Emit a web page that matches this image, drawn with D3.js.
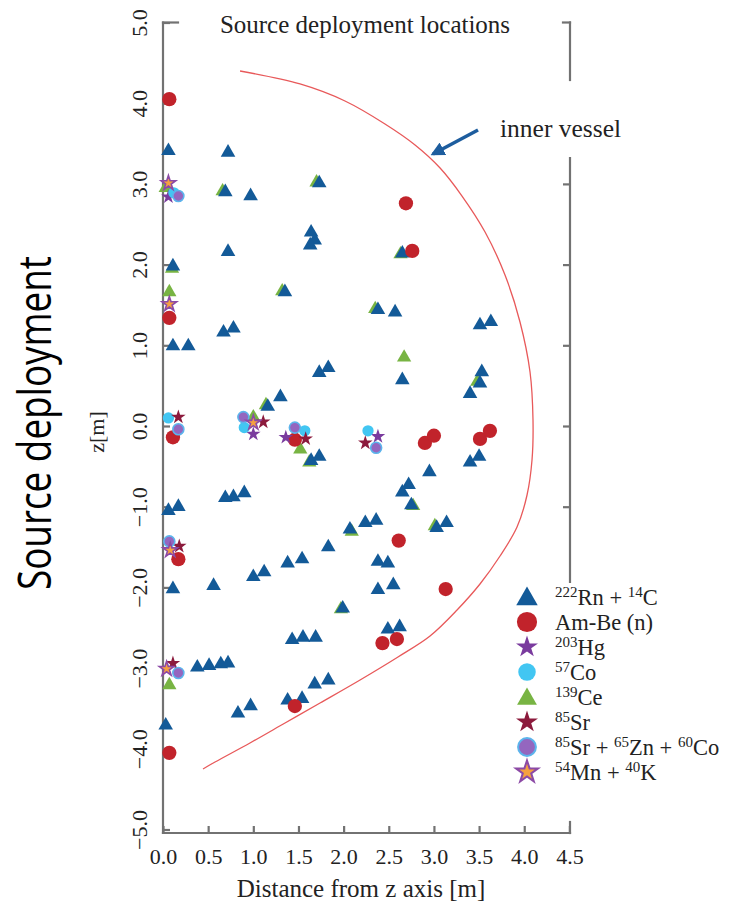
<!DOCTYPE html>
<html>
<head>
<meta charset="utf-8">
<script src="https://cdn.jsdelivr.net/npm/d3@7"></script>
<style>
  body { margin: 0; background: #fff; }
  svg text { font-family: "Liberation Serif", "Times New Roman", serif; fill: #222; }
</style>
</head>
<body>
<div id="chart"></div>
<script>
// [distance from z axis (m), z (m)] per source type
var rnC14 = [[0.06,3.41],[0.72,3.39],[0.69,2.90],[0.97,2.85],[1.73,3.01],[1.64,2.40],[1.68,2.30],[1.63,2.24],
    [0.72,2.16],[0.11,1.98],[1.35,1.66],[0.67,1.16],[0.78,1.21],[0.11,0.99],[0.28,0.99],
    [2.65,2.14],[2.38,1.44],[2.57,1.41],[3.51,1.25],[3.63,1.29],
    [2.65,0.57],[3.53,0.67],[3.51,0.53],[3.40,0.40],[1.73,0.66],[1.83,0.72],[1.30,0.36],[1.16,0.24],
    [1.64,-0.43],[1.73,-0.38],[3.40,-0.45],[3.50,-0.38],[2.95,-0.57],[2.72,-0.73],[2.65,-0.82],[2.75,-0.98],
    [0.69,-0.89],[0.78,-0.88],[0.90,-0.83],[0.06,-1.05],[0.17,-1.00],
    [2.07,-1.28],[2.24,-1.20],[2.36,-1.17],[3.03,-1.26],[3.14,-1.20],
    [1.83,-1.50],[1.38,-1.70],[1.54,-1.65],[1.00,-1.87],[1.12,-1.81],[0.11,-2.02],[0.56,-1.98],
    [2.38,-1.68],[2.49,-1.70],[2.38,-2.03],[2.55,-1.97],[1.99,-2.26],[2.49,-2.52],[2.62,-2.49],
    [1.43,-2.65],[1.55,-2.62],[1.69,-2.62],[0.38,-2.99],[0.51,-2.97],[0.64,-2.95],[0.72,-2.94],
    [1.68,-3.20],[1.83,-3.15],[1.38,-3.40],[1.54,-3.38],[0.83,-3.56],[0.97,-3.47],[0.03,-3.71]];
var amBe = [[0.07,4.05],[2.69,2.76],[2.76,2.17],[0.07,1.34],[0.11,-0.14],[1.46,-0.17],[2.90,-0.21],[3.00,-0.12],
    [3.51,-0.16],[3.62,-0.06],[2.61,-1.42],[0.17,-1.65],[3.13,-2.02],[2.43,-2.69],[2.59,-2.64],[1.46,-3.47],[0.07,-4.05]];
var hg203 = [[0.06,2.84],[1.00,-0.10],[1.36,-0.14],[2.38,-0.13]];
var co57 = [[0.12,2.89],[0.06,0.10],[0.90,-0.02],[1.57,-0.06],[2.27,-0.06]];
var ce139 = [[0.03,2.95],[0.07,1.66],[1.00,0.11],[1.52,-0.29],[2.67,0.85],[0.07,-3.21],
    [0.66,2.91],[1.70,3.02],[1.32,1.67],[0.10,1.95],[2.35,1.45],[2.63,2.13],[3.48,0.55],[2.77,-0.99],
    [3.01,-1.24],[2.09,-1.31],[1.14,0.26],[1.62,-0.45],[1.97,-2.27]];
var sr85 = [[0.17,0.11],[1.11,0.05],[1.58,-0.16],[2.24,-0.21],[0.18,-1.49],[0.11,-2.94]];
var srZnCo = [[0.17,2.85],[0.17,-0.04],[0.89,0.11],[1.46,-0.02],[2.36,-0.27],[0.07,-1.43],[0.17,-3.06]];
var mnK = [[0.06,3.01],[0.07,1.51],[1.00,0.04],[0.08,-1.54],[0.04,-3.01]];

// inner vessel outline
var vessel = [[0.853,4.399],[1.517,4.238],[2.015,4.027],[2.458,3.742],[2.791,3.482],[3.068,3.197],
    [3.311,2.850],[3.566,2.404],[3.787,1.871],[3.953,1.289],[4.064,0.669],[4.097,0.074],
    [4.086,-0.421],[4.031,-0.855],[3.920,-1.252],[3.732,-1.611],[3.510,-1.958],[3.256,-2.280],
    [2.957,-2.602],[2.602,-2.862],[2.182,-3.147],[1.739,-3.432],[1.351,-3.680],[0.963,-3.928],
    [0.576,-4.164],[0.443,-4.250]];

var xTicks = [0, 0.5, 1, 1.5, 2, 2.5, 3, 3.5, 4, 4.5];
var yTicks = [-5, -4, -3, -2, -1, 0, 1, 2, 3, 4, 5];

// drawing order: green sits under the blue triangles
var series = [
    {data: ce139, shape: "ce"},
    {data: rnC14, shape: "rn"},
    {data: amBe, shape: "am"},
    {data: hg203, shape: "hg"},
    {data: co57, shape: "co"},
    {data: sr85, shape: "sr"},
    {data: srZnCo, shape: "szc"},
    {data: mnK, shape: "mn"}
];

var styles = {
    rn:  {type: d3.symbolTriangle, size: 92, fill: "#135a98", stroke: "none"},
    am:  {type: d3.symbolCircle, size: 160, fill: "#c1232b", stroke: "none"},
    hg:  {type: d3.symbolStar, size: 66, fill: "#7a3b9e", stroke: "none"},
    co:  {type: d3.symbolCircle, size: 100, fill: "#42c6f2", stroke: "none"},
    ce:  {type: d3.symbolTriangle, size: 88, fill: "#78b443", stroke: "none"},
    sr:  {type: d3.symbolStar, size: 66, fill: "#8c1a3c", stroke: "none"},
    szc: {type: d3.symbolCircle, size: 95, fill: "#9466bf", stroke: "#5cb4ec"},
    mn:  {type: d3.symbolStar, size: 66, fill: "#f5a140", stroke: "#8c4aa6"}
};

var legendRows = [
    {shape: "rn", parts: [["222","Rn + "],["14","C"]]},
    {shape: "am", parts: [["","Am-Be (n)"]]},
    {shape: "hg", parts: [["203","Hg"]]},
    {shape: "co", parts: [["57","Co"]]},
    {shape: "ce", parts: [["139","Ce"]]},
    {shape: "sr", parts: [["85","Sr"]]},
    {shape: "szc", parts: [["85","Sr + "],["65","Zn + "],["60","Co"]]},
    {shape: "mn", parts: [["54","Mn + "],["40","K"]]}
];

var W = 737, H = 905;
var svg = d3.select("#chart").append("svg").attr("width", W).attr("height", H);

var x = d3.scaleLinear().domain([0, 4.5]).range([163, 569.4]);
var y = d3.scaleLinear().domain([-5, 5]).range([829.5, 22.5]);
var frameL = 163, frameR = 570, frameT = 22.5, frameB = 833;
var serif = "Liberation Serif, Times New Roman, serif";
var axisGrey = "#727272";

// frame pieces (the title, the note and the legend break it)
var frameSegs = [
    [frameL, frameT, frameL, frameB],
    [frameL, frameB, frameR, frameB],
    [frameR, frameB, frameR, 822],
    [frameL, frameT, 178, frameT],
    [563, frameT, frameR, frameT],
    [frameR, frameT, frameR, 80],
    [frameR, 158, frameR, 582]
];
svg.append("g").attr("class", "frame").selectAll("line").data(frameSegs).enter()
    .append("line")
    .attr("x1", function(d){ return d[0]; })
    .attr("y1", function(d){ return d[1]; })
    .attr("x2", function(d){ return d[2]; })
    .attr("y2", function(d){ return d[3]; })
    .attr("stroke", axisGrey)
    .attr("stroke-width", 2.2)
    .attr("stroke-linecap", "square");

// axes with inward ticks
var xAxis = svg.append("g").attr("transform", "translate(0," + frameB + ")")
    .attr("font-family", serif)
    .call(d3.axisBottom(x).tickValues(xTicks).tickSizeInner(-7).tickSizeOuter(0)
        .tickFormat(d3.format(".1f")));
xAxis.select(".domain").remove();
xAxis.selectAll("line").attr("stroke", axisGrey).attr("stroke-width", 2.2);
xAxis.selectAll("text").attr("y", 31).attr("dy", 0)
    .attr("font-family", serif).style("font-size", "22px").attr("fill", "#222");

var yAxis = svg.append("g").attr("transform", "translate(" + frameL + ",0)")
    .attr("font-family", serif)
    .call(d3.axisLeft(y).tickValues(yTicks).tickSizeInner(-7).tickSizeOuter(0)
        .tickFormat(d3.format(".1f")));
yAxis.select(".domain").remove();
yAxis.selectAll("line").attr("stroke", axisGrey).attr("stroke-width", 2.2);
yAxis.selectAll("text").attr("x", 0).attr("dy", 0).attr("text-anchor", "middle")
    .attr("transform", "translate(-16,0) rotate(-90)")
    .attr("font-family", serif).style("font-size", "22px").attr("fill", "#222");

// right side ticks only where the frame line shows
var yAxisR = svg.append("g").attr("transform", "translate(" + frameR + ",0)")
    .call(d3.axisRight(y).tickValues(yTicks.filter(function(v){ return v > -2 && v < 4; }))
        .tickSizeInner(-7).tickSizeOuter(0).tickFormat(""));
yAxisR.select(".domain").remove();
yAxisR.selectAll("line").attr("stroke", axisGrey).attr("stroke-width", 2.2);

// inner vessel
svg.append("path")
    .datum(vessel)
    .attr("d", d3.line().x(function(d){ return x(d[0]); }).y(function(d){ return y(d[1]); })
        .curve(d3.curveCatmullRom))
    .attr("fill", "none")
    .attr("stroke", "#e8595a")
    .attr("stroke-width", 1.3);

// markers
var marks = svg.append("g");
series.forEach(function(s){
    var st = styles[s.shape];
    marks.append("g").selectAll("path").data(s.data).enter()
        .append("path")
        .attr("d", d3.symbol().type(st.type).size(st.size))
        .attr("transform", function(d){
            return "translate(" + x(d[0]) + "," + y(d[1]) + ")";
        })
        .attr("fill", st.fill)
        .attr("stroke", st.stroke)
        .attr("stroke-width", st.stroke === "none" ? 0 : 1.6);
});

// title and labels
svg.append("text").attr("x", 365).attr("y", 33).attr("text-anchor", "middle")
    .style("font-size", "25px").text("Source deployment locations");
svg.append("text").attr("x", 361).attr("y", 897).attr("text-anchor", "middle")
    .style("font-size", "25px").text("Distance from z axis [m]");
svg.append("text").attr("transform", "translate(104,432) rotate(-90)").attr("text-anchor", "middle")
    .style("font-size", "22px").text("z[m]");
svg.append("text").attr("transform", "translate(51,423) rotate(-90)").attr("text-anchor", "middle")
    .attr("textLength", 334).attr("lengthAdjust", "spacingAndGlyphs")
    .style("font-family", "Open Sans, sans-serif").style("font-size", "46px").style("fill", "#000")
    .text("Source deployment");

// inner vessel note with arrow
svg.append("text").attr("x", 500).attr("y", 137).style("font-size", "25.5px").text("inner vessel");
svg.append("defs").append("marker").attr("id", "head")
    .attr("viewBox", "0 0 10 10").attr("refX", 8).attr("refY", 5)
    .attr("markerWidth", 4).attr("markerHeight", 4).attr("orient", "auto")
    .append("path").attr("d", "M0,0 L10,5 L0,10 z").attr("fill", "#1d5d9e");
svg.append("line").attr("x1", 478).attr("y1", 130).attr("x2", 433).attr("y2", 154)
    .attr("stroke", "#1d5d9e").attr("stroke-width", 3.5).attr("marker-end", "url(#head)");

// legend
var legend = svg.append("g").attr("transform", "translate(527,597)");
var bigSize = {rn: 200, am: 320, hg: 150, co: 240, ce: 170, sr: 150, szc: 250, mn: 150};
legendRows.forEach(function(r, i){
    var st = styles[r.shape];
    var g = legend.append("g").attr("transform", "translate(0," + (i * 25) + ")");
    g.append("path")
        .attr("d", d3.symbol().type(st.type).size(bigSize[r.shape]))
        .attr("transform", st.type === d3.symbolTriangle ? "translate(0,2)" : null)
        .attr("fill", st.fill)
        .attr("stroke", st.stroke)
        .attr("stroke-width", st.stroke === "none" ? 0 : 2);
    var t = g.append("text").attr("x", 28).attr("y", 8).style("font-size", "22.5px");
    r.parts.forEach(function(p){
        if (p[0] !== "") {
            t.append("tspan").attr("dy", -8).style("font-size", "15px").text(p[0]);
            t.append("tspan").attr("dy", 8).text(p[1]);
        } else {
            t.append("tspan").text(p[1]);
        }
    });
});
</script>
</body>
</html>
